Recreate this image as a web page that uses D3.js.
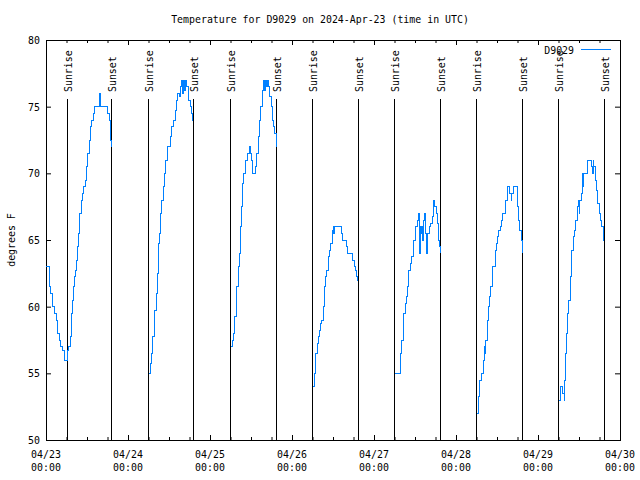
<!DOCTYPE html>
<html><head><meta charset="utf-8">
<script src="https://cdn.jsdelivr.net/npm/d3@7"></script>
<style>body{margin:0;background:#fff} svg{display:block}</style>
</head><body><svg id="c" width="640" height="480"></svg>
<script>
// ---------------- data ----------------
const titleText = "Temperature for D9029 on 2024-Apr-23 (time in UTC)";
const seriesName = "D9029";
const yAxisLabel = "degrees F";
const dateLabels = ["04/23","04/24","04/25","04/26","04/27","04/28","04/29","04/30"];
const timeLabel = "00:00";
const yTicks = [50,55,60,65,70,75,80];
// hours since 2024-04-23 00:00 UTC
const sunriseHours = [6.06, 29.94, 53.94, 77.94, 101.94, 125.94, 149.94];
const sunsetHours  = [19.02, 43.11, 67.41, 91.41, 115.41, 139.41, 163.41];

const hoursApr23 = [0,0.97,1.38,1.76,2.55,2.93,3.31,3.89,4.30,4.89,5.27,6.23,6.64,7.23,7.52,7.70,7.99,8.28,8.58,8.87,9.16,9.57,9.75,9.95,10.33,10.74,11.12,11.50,11.91,12.29,12.67,13.08,13.46,13.84,14.25,15.60,15.80,15.89,17.94,18.53,18.94,19.11];
const tempsApr23 = [63,61.5,61,60,59.5,59,58,57.5,57,56.75,56,56.75,57,57.75,59.5,60.5,61.5,62.25,62.75,63.5,64.5,65.5,66.25,67,68,68.5,69,69.5,70.5,71.5,72.5,73.5,74,74.5,75,75.5,76,75,74.5,74,72.5,72];
const hoursApr24 = [30.06,30.44,30.82,31.23,31.61,31.90,32.20,32.58,32.87,33.16,33.57,33.95,34.33,34.74,35.12,35.50,36.50,36.79,37.26,37.76,38.25,38.63,39.13,39.31,39.72,39.89,40.10,40.30,40.48,40.68,40.89,41.06,41.65,42.35,42.64,42.94,43.11];
const tempsApr24 = [55,55.75,56.5,57.75,58.75,59.75,61,62.5,64.75,65.5,67,68,69,70,71,72,72.75,73.5,74,74.75,75.5,76,75.75,76.5,77,76,77,76.5,77,76.25,77,76.5,75.5,75,74.5,74,74];
const hoursApr25 = [54.06,54.44,54.82,55.23,55.61,55.90,56.20,56.58,56.87,57.16,57.57,57.95,58.33,59.12,59.50,59.71,60.09,60.50,61.26,61.67,62.05,62.43,62.84,63.22,63.60,64.01,64.19,64.48,64.77,65.18,65.56,65.94,66.23,66.73,67.02,67.41];
const tempsApr25 = [57,57.5,58,59.25,60.5,61.5,63,64,66,67.5,69.25,70,71,71.5,72,71.5,71,70,70.5,71.5,72.75,74,75,76.25,77,76.25,77,76.5,77,76.5,75.75,75,74,73.5,73,72];
const hoursApr26 = [78.06,78.64,79.02,79.41,79.82,79.99,80.40,80.58,81.16,81.57,81.75,82.16,82.54,82.74,83.12,83.33,83.71,83.91,84.09,84.29,84.50,86.43,86.84,88.01,88.39,89.76,90.15,90.73,90.93,91.11,91.32];
const tempsApr26 = [54,55,56.5,57.25,57.75,58.25,58.75,59,60,61.5,62.25,62.75,63.25,63.75,64.25,64.75,65.25,65.75,66,65.5,66,65.5,65,64.5,64,63.5,63,62.75,62.25,62,62];
const hoursApr27 = [102.06,103.70,104.11,104.49,104.78,105.16,105.45,105.66,106.04,106.24,106.62,106.83,107.50,108.09,108.29,108.67,108.88,109.26,109.46,109.67,109.84,110.05,110.25,110.43,110.63,110.84,111.02,111.22,111.42,111.60,111.80,112.18,112.59,112.98,113.36,113.56,113.77,114.15,114.53,114.94,115.11,115.32];
const tempsApr27 = [55,56.5,57.5,58.5,59.5,60.25,60.75,61.5,62,62.75,63.25,63.75,65,65.5,66,66.5,67,65.5,64,66,65.5,66,65,66,66.5,67,65.5,65,64,65,65.5,66,66.25,66.75,67.75,68,67.5,67,66.25,65,64.5,64];
const hoursApr28 = [126.06,126.44,126.82,127.02,127.40,127.99,128.19,128.40,128.58,128.78,129.16,129.57,129.95,130.16,130.54,130.74,131.50,131.91,132.29,132.50,132.88,133.26,133.67,134.43,134.63,135.01,135.80,136.18,136.39,136.77,137.94,138.35,138.73,139.11,139.32];
const tempsApr28 = [52,53.25,53.75,54.5,55,55.5,56,57,56.5,57.5,59,60,60.75,61.5,62.5,63,64.25,64.75,65.25,65.75,66,66.5,67,67.5,68,69,68.5,68,68.5,69,67.5,66.5,65.75,65,64];
const hoursApr29 = [150.06,150.44,151.23,151.61,151.81,151.99,152.40,152.78,152.98,153.37,153.57,153.75,153.95,154.33,154.74,155.12,155.50,155.71,155.91,156.09,156.29,156.67,156.88,157.08,157.26,157.46,158.63,159.60,160.01,160.19,160.39,160.77,161.18,161.56,161.94,162.35,162.73,163.11,163.32];
const tempsApr29 = [53,54,53.5,53,54.5,56.5,58,59.5,60.5,61.75,62.25,63,64.25,65.25,65.75,66.5,67.5,68,67.5,67,68,68.5,69.5,70,69,70,71,70.5,70,71,70.5,69.5,68.75,67.75,67,66.5,66,65,65];

// ---------------- drawing ----------------
const svg = d3.select("#c");
const L = 46, R = 620, T = 40, B = 440;
const FONT = "DejaVu Sans Mono", FS = 11, SX = 0.9;
const x = d3.scaleLinear().domain([0, 168]).range([L, R]);
const y = d3.scaleLinear().domain([50, 80]).range([B, T]);

svg.append("rect").attr("width",640).attr("height",480).attr("fill","#fff");

function txt(x0, y0, s, anchor, rot, dy) {
  svg.append("text")
    .attr("transform", `translate(${x0},${y0})` + (rot ? ` rotate(${rot})` : "") + ` scale(${SX},1)`)
    .attr("text-anchor", anchor)
    .attr("dy", dy || 0)
    .attr("font-family", FONT).attr("font-size", FS).attr("fill", "#000")
    .text(s);
}

// ticks via d3 axes (inward)
const allHours = d3.range(0, 169, 6);
const majorHours = allHours.filter(h => h % 24 === 0);
const minorHours = allHours.filter(h => h % 24 !== 0);
function styleAxis(g) { g.select(".domain").remove(); g.selectAll("line").attr("stroke","#000"); g.selectAll("text").remove(); }
svg.append("g").attr("transform",`translate(0,${B})`).call(d3.axisBottom(x).tickValues(majorHours).tickSize(-5)).call(styleAxis);
svg.append("g").attr("transform",`translate(0,${B})`).call(d3.axisBottom(x).tickValues(minorHours).tickSize(-3)).call(styleAxis);
svg.append("g").attr("transform",`translate(0,${T})`).call(d3.axisTop(x).tickValues(majorHours).tickSize(-5)).call(styleAxis);
svg.append("g").attr("transform",`translate(0,${T})`).call(d3.axisTop(x).tickValues(minorHours).tickSize(-3)).call(styleAxis);
svg.append("g").attr("transform",`translate(${L},0)`).call(d3.axisLeft(y).tickValues(yTicks).tickSize(-5)).call(styleAxis);
svg.append("g").attr("transform",`translate(${R},0)`).call(d3.axisRight(y).tickValues(yTicks).tickSize(-5)).call(styleAxis);

// frame
svg.append("rect").attr("x", L + 0.5).attr("y", T + 0.5).attr("width", R - L).attr("height", B - T)
  .attr("fill","none").attr("stroke","#000").attr("stroke-width",1);

// tick labels
yTicks.forEach(v => txt(40, y(v), String(v), "end", 0, "0.35em"));
dateLabels.forEach((d, i) => {
  txt(x(i * 24), 458, d, "middle");
  txt(x(i * 24), 471, timeLabel, "middle");
});

// sunrise / sunset markers
function sunLine(h, label) {
  const xx = Math.round(x(h)) + 0.5;
  svg.append("line").attr("x1", xx).attr("x2", xx).attr("y1", 99).attr("y2", B)
    .attr("stroke", "#000").attr("stroke-width", 1);
  txt(xx + 0.5, 92, label, "start", -90, "0.35em");
}
sunriseHours.forEach(h => sunLine(h, "Sunrise"));
sunsetHours.forEach(h => sunLine(h, "Sunset"));

// temperature series (step line, gaps between days)
const dayHours = [hoursApr23, hoursApr24, hoursApr25, hoursApr26, hoursApr27, hoursApr28, hoursApr29];
const dayTemps = [tempsApr23, tempsApr24, tempsApr25, tempsApr26, tempsApr27, tempsApr28, tempsApr29];
const pts = [];
dayHours.forEach((hs, i) => {
  hs.forEach((h, j) => pts.push({ h: h, t: dayTemps[i][j] }));
  pts.push({ h: null, t: null });
});
const line = d3.line().defined(d => d.t !== null)
  .x(d => x(d.h)).y(d => y(d.t)).curve(d3.curveStepAfter);
svg.append("path").attr("d", line(pts)).attr("fill","none")
  .attr("stroke","#0080ff").attr("stroke-width",1).attr("shape-rendering","crispEdges");

// legend
txt(574, 50, seriesName, "end", 0, "0.35em");
svg.append("line").attr("x1", 581).attr("x2", 611).attr("y1", 49.5).attr("y2", 49.5)
  .attr("stroke","#0080ff").attr("stroke-width",1);

// title and y label
txt(320, 23, titleText, "middle");
txt(11, 240, yAxisLabel, "middle", -90, "0.35em");
</script>
</body></html>
